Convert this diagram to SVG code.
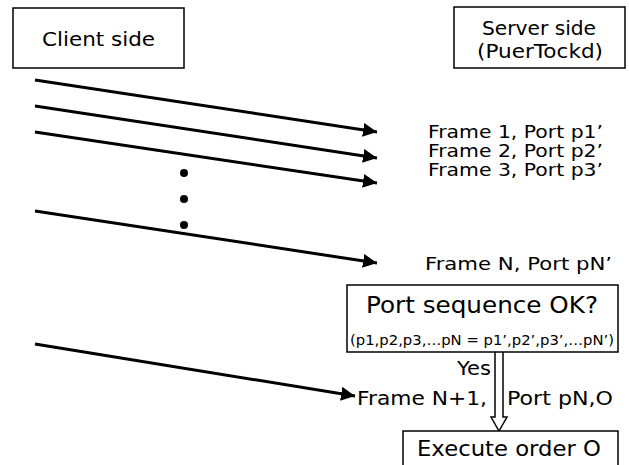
<svg xmlns="http://www.w3.org/2000/svg" width="629" height="465" viewBox="0 0 629 465">
<defs>
<marker id="ah" markerUnits="userSpaceOnUse" markerWidth="16" markerHeight="16" refX="14" refY="7" orient="auto">
<path d="M0,0 L14,7 L0,14 Z" fill="#000"/>
</marker>
<style>
.box{fill:#fff;stroke:#000;stroke-width:1.5}
.t{font-family:"DejaVu Sans",sans-serif;fill:#000}
.ln{stroke:#000;stroke-width:3;fill:none;marker-end:url(#ah)}
</style>
</defs>
<rect width="629" height="465" fill="#fff"/>
<g id="client">
<rect class="box" x="13" y="8" width="171" height="60"/>
<text class="t" x="42" y="46" font-size="20" textLength="113" lengthAdjust="spacingAndGlyphs">Client side</text>
</g>
<g id="server">
<rect class="box" x="454" y="7" width="171" height="61"/>
<text class="t" x="482" y="35" font-size="19" textLength="114" lengthAdjust="spacingAndGlyphs">Server side</text>
<text class="t" x="477" y="58" font-size="19" textLength="126" lengthAdjust="spacingAndGlyphs">(PuerTockd)</text>
</g>
<g id="connectors">
<line class="ln" x1="35" y1="80" x2="377" y2="132"/>
<line class="ln" x1="35" y1="106" x2="377" y2="158"/>
<line class="ln" x1="35" y1="132" x2="377" y2="183"/>
<line class="ln" x1="35" y1="211" x2="377" y2="263"/>
<line class="ln" x1="35" y1="344" x2="355" y2="396"/>
<path d="M495,352 V417 H491 L499,431 L507,417 H503 V352" fill="#fff" stroke="#000" stroke-width="1.5"/>
</g>
<g id="dots">
<circle cx="184" cy="173" r="4"/>
<circle cx="184" cy="199" r="4"/>
<circle cx="184" cy="225" r="4"/>
</g>
<g id="labels">
<text class="t" x="428" y="138" font-size="17.5" textLength="175" lengthAdjust="spacingAndGlyphs">Frame 1, Port p1’</text>
<text class="t" x="428" y="157" font-size="17.5" textLength="175" lengthAdjust="spacingAndGlyphs">Frame 2, Port p2’</text>
<text class="t" x="428" y="176" font-size="17.5" textLength="175" lengthAdjust="spacingAndGlyphs">Frame 3, Port p3’</text>
<text class="t" x="425" y="270" font-size="18" textLength="187" lengthAdjust="spacingAndGlyphs">Frame N, Port pN’</text>
<text class="t" x="457" y="375" font-size="19" textLength="34" lengthAdjust="spacingAndGlyphs">Yes</text>
<text class="t" x="357" y="405" font-size="19" textLength="130" lengthAdjust="spacingAndGlyphs">Frame N+1,</text>
<text class="t" x="507" y="405" font-size="19" textLength="106" lengthAdjust="spacingAndGlyphs">Port pN,O</text>
</g>
<g id="check">
<rect class="box" x="347" y="285" width="271" height="67"/>
<text class="t" x="366" y="313" font-size="23" textLength="232" lengthAdjust="spacingAndGlyphs">Port sequence OK?</text>
<text class="t" x="350" y="345" font-size="14.5" textLength="264" lengthAdjust="spacingAndGlyphs">(p1,p2,p3,…pN = p1’,p2’,p3’,…pN’)</text>
</g>
<g id="execute">
<rect class="box" x="403" y="431" width="215" height="40"/>
<text class="t" x="417" y="456" font-size="21" textLength="184" lengthAdjust="spacingAndGlyphs">Execute order O</text>
</g>
</svg>
